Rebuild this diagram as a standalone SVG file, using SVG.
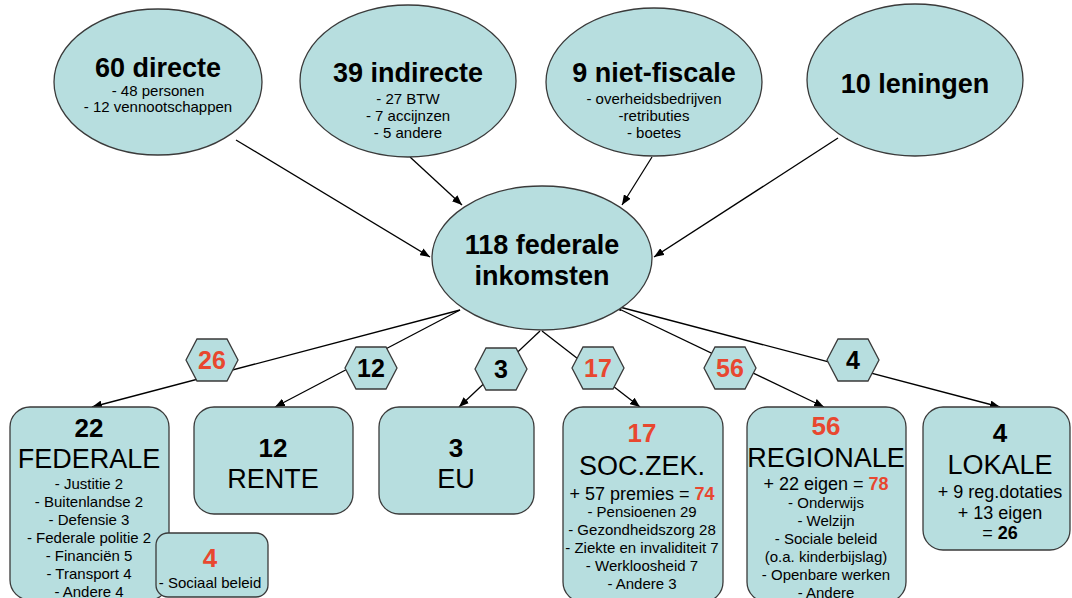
<svg xmlns="http://www.w3.org/2000/svg" width="1072" height="598" viewBox="0 0 1072 598">
<style>
.n{fill:#b7dedf;stroke:#3a3a3a;stroke-width:1.3}
text{font-family:"Liberation Sans",Arial,sans-serif;text-anchor:middle;fill:#000}
.t{font-size:27px;font-weight:bold}
.s{font-size:15px}
.m{font-size:18px}
.b{font-size:27px}
.num{font-size:26px;font-weight:bold}
.h{font-size:25px;font-weight:bold}
.r{fill:#e8472f}
.bd{font-weight:bold}
.c{stroke:#000;stroke-width:1.3;fill:none}
</style>
<defs>
<marker id="arr" viewBox="0 0 10 8" refX="10" refY="4" markerWidth="10" markerHeight="8" orient="auto-start-reverse" markerUnits="userSpaceOnUse"><path d="M0,0 L10,4 L0,8 z" fill="#000"/></marker>
</defs>
<g id="connectors">
<line class="c" x1="236" y1="140" x2="430" y2="257" marker-end="url(#arr)"/>
<line class="c" x1="410" y1="157" x2="462" y2="205" marker-end="url(#arr)"/>
<line class="c" x1="652" y1="157" x2="622" y2="205" marker-end="url(#arr)"/>
<line class="c" x1="838" y1="138" x2="654" y2="257" marker-end="url(#arr)"/>
<line class="c" x1="460" y1="310" x2="92" y2="407" marker-end="url(#arr)"/>
<line class="c" x1="460" y1="310" x2="275" y2="407" marker-end="url(#arr)"/>
<line class="c" x1="540" y1="331" x2="459" y2="407" marker-end="url(#arr)"/>
<line class="c" x1="542" y1="331" x2="640" y2="407" marker-end="url(#arr)"/>
<line class="c" x1="615" y1="307" x2="824" y2="407" marker-end="url(#arr)"/>
<line class="c" x1="612" y1="305" x2="1000" y2="407" marker-start="url(#arr)" marker-end="url(#arr)"/>
</g>
<g id="directe">
<ellipse class="n" cx="158" cy="82" rx="104" ry="73"/>
<text class="t" x="158" y="77">60 directe</text>
<text class="s" x="158" y="96">- 48 personen</text>
<text class="s" x="158" y="112">- 12 vennootschappen</text>
</g>
<g id="indirecte">
<ellipse class="n" cx="408" cy="81" rx="108" ry="76"/>
<text class="t" x="408" y="82">39 indirecte</text>
<text class="s" x="408" y="104">- 27 BTW</text>
<text class="s" x="408" y="121">- 7 accijnzen</text>
<text class="s" x="408" y="138">- 5 andere</text>
</g>
<g id="nietfiscale">
<ellipse class="n" cx="654" cy="82" rx="108" ry="74"/>
<text class="t" x="654" y="82">9 niet-fiscale</text>
<text class="s" x="654" y="104">- overheidsbedrijven</text>
<text class="s" x="654" y="121">-retributies</text>
<text class="s" x="654" y="138">- boetes</text>
</g>
<g id="leningen">
<ellipse class="n" cx="915" cy="80" rx="108" ry="76"/>
<text class="t" x="915" y="93">10 leningen</text>
</g>
<g id="federale_inkomsten">
<ellipse class="n" cx="542" cy="258" rx="110" ry="72"/>
<text class="t" x="542" y="254">118 federale</text>
<text class="t" x="542" y="285">inkomsten</text>
</g>
<g id="hex26">
<polygon class="n" points="186,360 197,339 227,339 238,360 227,381 197,381"/>
<text class="h r" x="212" y="369">26</text>
</g>
<g id="hex12">
<polygon class="n" points="345,368 356,347 386,347 397,368 386,389 356,389"/>
<text class="h" x="371" y="377">12</text>
</g>
<g id="hex3">
<polygon class="n" points="475,369 486,348 516,348 527,369 516,390 486,390"/>
<text class="h" x="501" y="378">3</text>
</g>
<g id="hex17">
<polygon class="n" points="572,368 583,347 613,347 624,368 613,389 583,389"/>
<text class="h r" x="598" y="377">17</text>
</g>
<g id="hex56">
<polygon class="n" points="704,368 715,347 745,347 756,368 745,389 715,389"/>
<text class="h r" x="730" y="377">56</text>
</g>
<g id="hex4">
<polygon class="n" points="827,360 838,339 868,339 879,360 868,381 838,381"/>
<text class="h" x="853" y="369">4</text>
</g>
<g id="federale">
<rect class="n" x="10" y="407" width="159" height="193" rx="20"/>
<text class="num" x="89" y="437">22</text>
<text class="b" x="89" y="468">FEDERALE</text>
<text class="s" x="89" y="489">- Justitie 2</text>
<text class="s" x="89" y="507">- Buitenlandse 2</text>
<text class="s" x="89" y="525">- Defensie 3</text>
<text class="s" x="89" y="543">- Federale politie 2</text>
<text class="s" x="89" y="561">- Financiën 5</text>
<text class="s" x="89" y="579">- Transport 4</text>
<text class="s" x="89" y="597">- Andere 4</text>
</g>
<g id="sociaal">
<rect class="n" x="156" y="533" width="112" height="64" rx="12"/>
<text class="num r" x="210" y="567">4</text>
<text class="s" x="210" y="588">- Sociaal beleid</text>
</g>
<g id="rente">
<rect class="n" x="194" y="407" width="159" height="107" rx="20"/>
<text class="num" x="273" y="457">12</text>
<text class="b" x="273" y="488">RENTE</text>
</g>
<g id="eu">
<rect class="n" x="379" y="407" width="155" height="107" rx="20"/>
<text class="num" x="456" y="457">3</text>
<text class="b" x="456" y="488">EU</text>
</g>
<g id="soczek">
<rect class="n" x="563" y="407" width="160" height="195" rx="20"/>
<text class="num r" x="642" y="442">17</text>
<text class="b" x="642" y="475">SOC.ZEK.</text>
<text class="m" x="642" y="500">+ 57 premies = <tspan class="bd r">74</tspan></text>
<text class="s" x="642" y="517">- Pensioenen 29</text>
<text class="s" x="642" y="535">- Gezondheidszorg 28</text>
<text class="s" x="642" y="553">- Ziekte en invaliditeit 7</text>
<text class="s" x="642" y="571">- Werkloosheid 7</text>
<text class="s" x="642" y="589">- Andere 3</text>
</g>
<g id="regionale">
<rect class="n" x="747" y="407" width="159" height="195" rx="20"/>
<text class="num r" x="826" y="435">56</text>
<text class="b" x="826" y="467">REGIONALE</text>
<text class="m" x="826" y="490">+ 22 eigen = <tspan class="bd r">78</tspan></text>
<text class="s" x="826" y="508">- Onderwijs</text>
<text class="s" x="826" y="526">- Welzijn</text>
<text class="s" x="826" y="544">- Sociale beleid</text>
<text class="s" x="826" y="562">(o.a. kinderbijslag)</text>
<text class="s" x="826" y="580">- Openbare werken</text>
<text class="s" x="826" y="598">- Andere</text>
</g>
<g id="lokale">
<rect class="n" x="923" y="407" width="147" height="143" rx="20"/>
<text class="num" x="1000" y="442">4</text>
<text class="b" x="1000" y="474">LOKALE</text>
<text class="m" x="1000" y="498">+ 9 reg.dotaties</text>
<text class="m" x="1000" y="519">+ 13 eigen</text>
<text class="m" x="1000" y="539">= <tspan class="bd">26</tspan></text>
</g>
</svg>
